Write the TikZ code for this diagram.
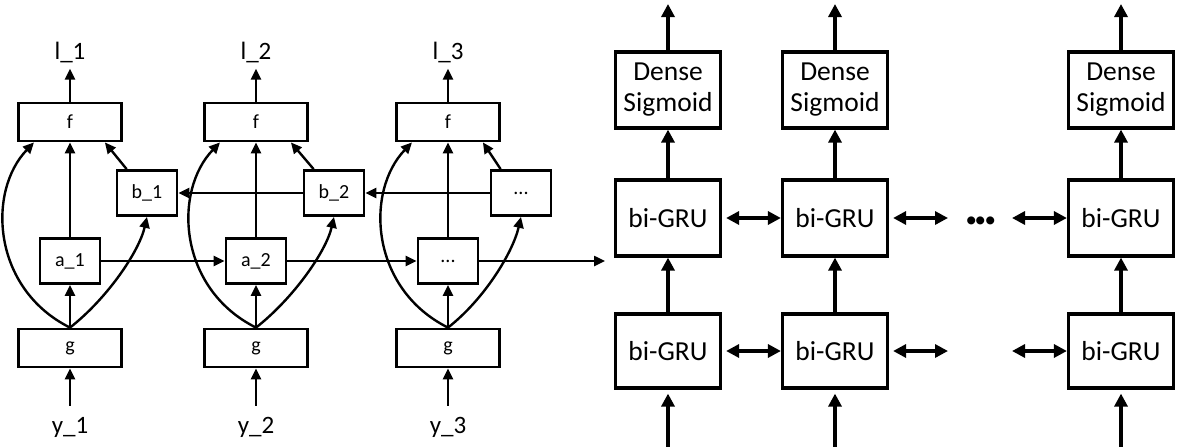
\documentclass[tikz,border=0pt]{standalone}
\usepackage{fontspec}
\setmainfont{Carlito}
\usetikzlibrary{arrows.meta}
\begin{document}
\begin{tikzpicture}[x=1pt,y=-1pt,
 box/.style={draw,line width=2.8pt,inner sep=0pt,font=\fontsize{20}{22}\selectfont},
 fbox/.style={box,minimum width=103pt,minimum height=38pt},
 sbox/.style={box,minimum width=60pt,minimum height=45pt},
 lbl/.style={inner sep=0pt,font=\fontsize{25}{28}\selectfont},
 arr/.style={line width=2.4pt,-{Triangle[length=11pt,width=10pt]}},
 big/.style={draw,line width=3.2pt,inner sep=0pt,minimum width=105pt,font=\fontsize{27.5}{31}\selectfont,align=center},
 rarr/.style={line width=3.2pt,-{Triangle[length=13pt,width=13pt]}},
 darr/.style={line width=3.2pt,{Triangle[length=13pt,width=13pt]}-{Triangle[length=13pt,width=13pt]}}]
\useasboundingbox (0,0) rectangle (1178,447);

% ---------- left part ----------
\node[fbox] (f1) at (70,122) {f};
\node[fbox] (f2) at (256,122) {f};
\node[fbox] (f3) at (448,122) {f};
\node[sbox] (b1) at (147,193) {b\_1};
\node[sbox] (b2) at (334,193) {b\_2};
\node[sbox] (b3) at (521,193) {...};
\node[sbox] (a1) at (70,261) {a\_1};
\node[sbox] (a2) at (256,261) {a\_2};
\node[sbox] (a3) at (448,261) {...};
\node[fbox] (g1) at (70,348) {g};
\node[fbox] (g2) at (256,348) {g};
\node[fbox] (g3) at (448,348) {g};
\node[lbl] (l1) at (70,52) {l\_1};
\node[lbl] (l2) at (256,52) {l\_2};
\node[lbl] (l3) at (448,52) {l\_3};
\node[lbl] (y1) at (70,427) {y\_1};
\node[lbl] (y2) at (256,427) {y\_2};
\node[lbl] (y3) at (448,427) {y\_3};
\coordinate (aout) at (605,261);

\foreach \i in {1,2,3}{
  \draw[arr,shorten >=6pt] (f\i.north) -- (l\i.south);
  \draw[arr,shorten <=11pt] (y\i.north) -- (g\i.south);
  \draw[arr] (g\i.north) -- (a\i.south);
  \draw[arr] (a\i.north) -- (f\i.south);
  \draw[arr] ([xshift=11pt]b\i.north west) -- ([xshift=-18pt]f\i.south east);
  \draw[arr] (g\i.north) .. controls +(-78,-39) and +(-47,49) .. ([xshift=-36pt]f\i.south);
  \draw[arr] (g\i.north) .. controls +(37,-29) and +(-8,35) .. (b\i.south);
}
\draw[arr] (a1.east) -- (a2.west);
\draw[arr] (a2.east) -- (a3.west);
\draw[arr] (a3.east) -- (aout);
\draw[arr] (b3.west) -- (b2.east);
\draw[arr] (b2.west) -- (b1.east);

% ---------- right part ----------
\node[big,minimum height=76pt] (d1) at (668,90) {Dense\\Sigmoid};
\node[big,minimum height=76pt] (d2) at (835,90) {Dense\\Sigmoid};
\node[big,minimum height=76pt] (d3) at (1121,90) {Dense\\Sigmoid};
\node[big,minimum height=76pt] (r1a) at (668,218) {bi-GRU};
\node[big,minimum height=76pt] (r1b) at (835,218) {bi-GRU};
\node[big,minimum height=76pt] (r1c) at (1121,218) {bi-GRU};
\node[big,minimum height=74pt] (r2a) at (668,351) {bi-GRU};
\node[big,minimum height=74pt] (r2b) at (835,351) {bi-GRU};
\node[big,minimum height=74pt] (r2c) at (1121,351) {bi-GRU};
\node[inner sep=0pt,anchor=base,font=\fontsize{54}{54}\selectfont\bfseries] (dots) at (981,224.5) {.\kern-5pt.\kern-5pt.};

\foreach \c/\x in {a/668,b/835,c/1121}{
  \coordinate (top\c) at (\x,4);
  \coordinate (in\c) at (\x,447);
}
\draw[rarr] (d1.north) -- (topa);
\draw[rarr] (d2.north) -- (topb);
\draw[rarr] (d3.north) -- (topc);
\draw[rarr] (r1a.north) -- (d1.south);
\draw[rarr] (r1b.north) -- (d2.south);
\draw[rarr] (r1c.north) -- (d3.south);
\draw[rarr] (r2a.north) -- (r1a.south);
\draw[rarr] (r2b.north) -- (r1b.south);
\draw[rarr] (r2c.north) -- (r1c.south);
\draw[rarr,shorten >=4pt] (ina) -- (r2a.south);
\draw[rarr,shorten >=4pt] (inb) -- (r2b.south);
\draw[rarr,shorten >=4pt] (inc) -- (r2c.south);

\coordinate (e1) at (948,218);
\coordinate (s1) at (1012,218);
\coordinate (e2) at (948,351);
\coordinate (s2) at (1012,351);
\draw[darr,shorten <=4pt] (r1a.east) -- (r1b.west);
\draw[darr,shorten <=4pt] (r1b.east) -- (e1);
\draw[darr] (s1) -- (r1c.west);
\draw[darr,shorten <=4pt] (r2a.east) -- (r2b.west);
\draw[darr,shorten <=4pt] (r2b.east) -- (e2);
\draw[darr] (s2) -- (r2c.west);
\end{tikzpicture}
\end{document}
